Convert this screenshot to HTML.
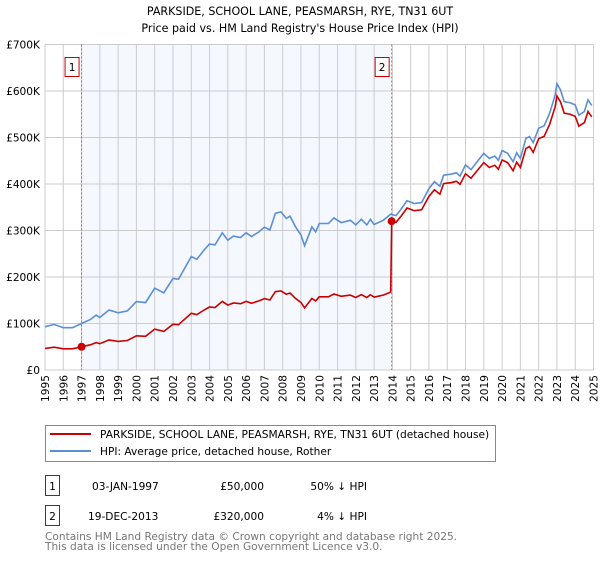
<!DOCTYPE html>
<html><head><meta charset="utf-8"><style>
body{margin:0;background:#fff;font-family:"DejaVu Sans","Liberation Sans",sans-serif;}
svg text{font-family:"DejaVu Sans","Liberation Sans",sans-serif;}
</style></head><body>
<svg id="c" width="600" height="560" viewBox="0 0 600 560" xmlns="http://www.w3.org/2000/svg">
<text x="300" y="15" text-anchor="middle" font-size="11.1">PARKSIDE, SCHOOL LANE, PEASMARSH, RYE, TN31 6UT</text>
<text x="300" y="32" text-anchor="middle" font-size="11.1">Price paid vs. HM Land Registry's House Price Index (HPI)</text>
<g id="plot"></g>
<g>
<rect x="45.5" y="425.5" width="450" height="36" fill="#fff" stroke="#888"/>
<line x1="50" y1="434" x2="91" y2="434" stroke="#cc0000" stroke-width="2"/>
<text x="100" y="438" font-size="10.6">PARKSIDE, SCHOOL LANE, PEASMARSH, RYE, TN31 6UT (detached house)</text>
<line x1="50" y1="451" x2="91" y2="451" stroke="#5b8fd6" stroke-width="2"/>
<text x="100" y="455" font-size="10.6">HPI: Average price, detached house, Rother</text>
</g>
<g font-size="10.6">
<rect x="45.5" y="475.5" width="14" height="20" fill="#fff" stroke="#cc0000"/>
<text x="52.5" y="490" text-anchor="middle">1</text>
<text x="92" y="490">03-JAN-1997</text>
<text x="264" y="490" text-anchor="end">£50,000</text>
<text x="367" y="490" text-anchor="end">50% ↓ HPI</text>
<rect x="45.5" y="505.5" width="14" height="20" fill="#fff" stroke="#cc0000"/>
<text x="52.5" y="520" text-anchor="middle">2</text>
<text x="88" y="520">19-DEC-2013</text>
<text x="264" y="520" text-anchor="end">£320,000</text>
<text x="367" y="520" text-anchor="end">4% ↓ HPI</text>
</g>
<text x="45" y="540" font-size="10.6" fill="#777">Contains HM Land Registry data © Crown copyright and database right 2025.</text>
<text x="45" y="550" font-size="10.6" fill="#777">This data is licensed under the Open Government Licence v3.0.</text>
</svg>
<script>
const hpiYears=[1995.0,1995.5,1996.0,1996.5,1997.0,1997.5,1997.8,1998.0,1998.5,1999.0,1999.5,2000.0,2000.5,2001.0,2001.5,2002.0,2002.3,2003.0,2003.3,2003.7,2004.0,2004.3,2004.7,2005.0,2005.3,2005.7,2006.0,2006.3,2006.7,2007.0,2007.3,2007.6,2007.9,2008.2,2008.4,2008.7,2009.0,2009.2,2009.6,2009.8,2010.0,2010.5,2010.8,2011.2,2011.7,2012.0,2012.3,2012.6,2012.8,2013.0,2013.5,2013.9,2014.2,2014.5,2014.8,2015.2,2015.6,2016.0,2016.3,2016.6,2016.8,2017.2,2017.5,2017.7,2018.0,2018.3,2018.7,2019.0,2019.3,2019.6,2019.8,2020.0,2020.3,2020.6,2020.8,2021.0,2021.3,2021.5,2021.7,2022.0,2022.3,2022.6,2022.9,2023.0,2023.2,2023.4,2023.7,2024.0,2024.2,2024.5,2024.7,2024.9];
const hpiValues=[93,98,91,91,100,109,118,113,129,123,127,147,145,176,166,197,195,244,238,258,271,269,295,279,288,285,295,287,297,307,301,337,340,326,331,308,290,267,308,297,315,315,327,317,322,312,324,312,324,313,322,335,332,347,364,358,360,390,405,395,419,421,424,417,441,431,451,466,455,460,451,472,466,448,467,455,498,502,489,520,525,552,591,616,602,577,575,570,548,556,581,569];
const saleYears=[1997.0,2013.96];
const salePrices=[50,320];
const saleLabels=["1","2"];
const yTicks=[0,100,200,300,400,500,600,700];
const yTickLabels=["£0","£100K","£200K","£300K","£400K","£500K","£600K","£700K"];
const xTicks=[1995,1996,1997,1998,1999,2000,2001,2002,2003,2004,2005,2006,2007,2008,2009,2010,2011,2012,2013,2014,2015,2016,2017,2018,2019,2020,2021,2022,2023,2024,2025];

const X0=45,X1=593.5,Y0=370,Y1=44.5;
const xs=y=>X0+(y-1995)/30*(X1-X0);
const ys=v=>Y0-v/700*(Y0-Y1);
const NS="http://www.w3.org/2000/svg";
const g=document.getElementById('plot');
function mk(t,a){const e=document.createElementNS(NS,t);for(const k in a)e.setAttribute(k,a[k]);g.appendChild(e);return e;}
function hpiAt(t){if(t<=hpiYears[0])return hpiValues[0];for(let i=1;i<hpiYears.length;i++){if(t<=hpiYears[i]){const f=(t-hpiYears[i-1])/(hpiYears[i]-hpiYears[i-1]);return hpiValues[i-1]+f*(hpiValues[i]-hpiValues[i-1]);}}return hpiValues[hpiValues.length-1];}

let r=mk('rect',{x:xs(saleYears[0]),y:Y1,width:xs(saleYears[1])-xs(saleYears[0]),height:Y0-Y1,fill:'#f5f8fe'});


xTicks.forEach(t=>{const l=mk('line',{x1:xs(t),x2:xs(t),y1:Y1,y2:Y0,stroke:'#ccc','stroke-width':1});


const tx=mk('text',{x:0,y:0,'font-size':10.6,'text-anchor':'end',transform:`translate(${xs(t)+4},375) rotate(-90)`});tx.textContent=t;

});
yTicks.forEach((v,i)=>{const l=mk('line',{x1:X0,x2:X1,y1:ys(v),y2:ys(v),stroke:'#ccc','stroke-width':1});


const tx=mk('text',{x:40,y:ys(v)+4,'font-size':10.6,'text-anchor':'end'});tx.textContent=yTickLabels[i];

});
saleYears.forEach((s,i)=>{const l=mk('line',{x1:xs(s),x2:xs(s),y1:Y1,y2:Y0,stroke:'#e06060','stroke-width':1,'stroke-dasharray':'2,2'});


const b=mk('rect',{x:xs(s)-16.5,y:57.5,width:14,height:19,fill:'#fff',stroke:'#cc0000'});


const tx=mk('text',{x:xs(s)-9.5,y:71,'font-size':10.6,'text-anchor':'middle'});tx.textContent=saleLabels[i];

});
let d=hpiYears.map((t,i)=>(i?'L':'M')+xs(t).toFixed(1)+','+ys(hpiValues[i]).toFixed(1)).join('');
let p=mk('path',{d:d,fill:'none',stroke:'#5b8fd6','stroke-width':1.6});


let pts=[];
hpiYears.forEach((t,i)=>{
  if(t<saleYears[1]){pts.push([t,salePrices[0]*hpiValues[i]/hpiAt(saleYears[0])]);}
});
pts.push([saleYears[1]-0.05,salePrices[0]*hpiAt(saleYears[1])/hpiAt(saleYears[0])]);
pts.push([saleYears[1],salePrices[1]]);
hpiYears.forEach((t,i)=>{if(t>saleYears[1])pts.push([t,salePrices[1]*hpiValues[i]/hpiAt(saleYears[1])]);});
d=pts.map((q,i)=>(i?'L':'M')+xs(q[0]).toFixed(1)+','+ys(q[1]).toFixed(1)).join('');
p=mk('path',{d:d,fill:'none',stroke:'#cc0000','stroke-width':1.6});


saleYears.forEach((s,i)=>{const c=mk('circle',{cx:xs(s),cy:ys(salePrices[i]),r:4,fill:'#cc0000'});

});
</script>
</body></html>
